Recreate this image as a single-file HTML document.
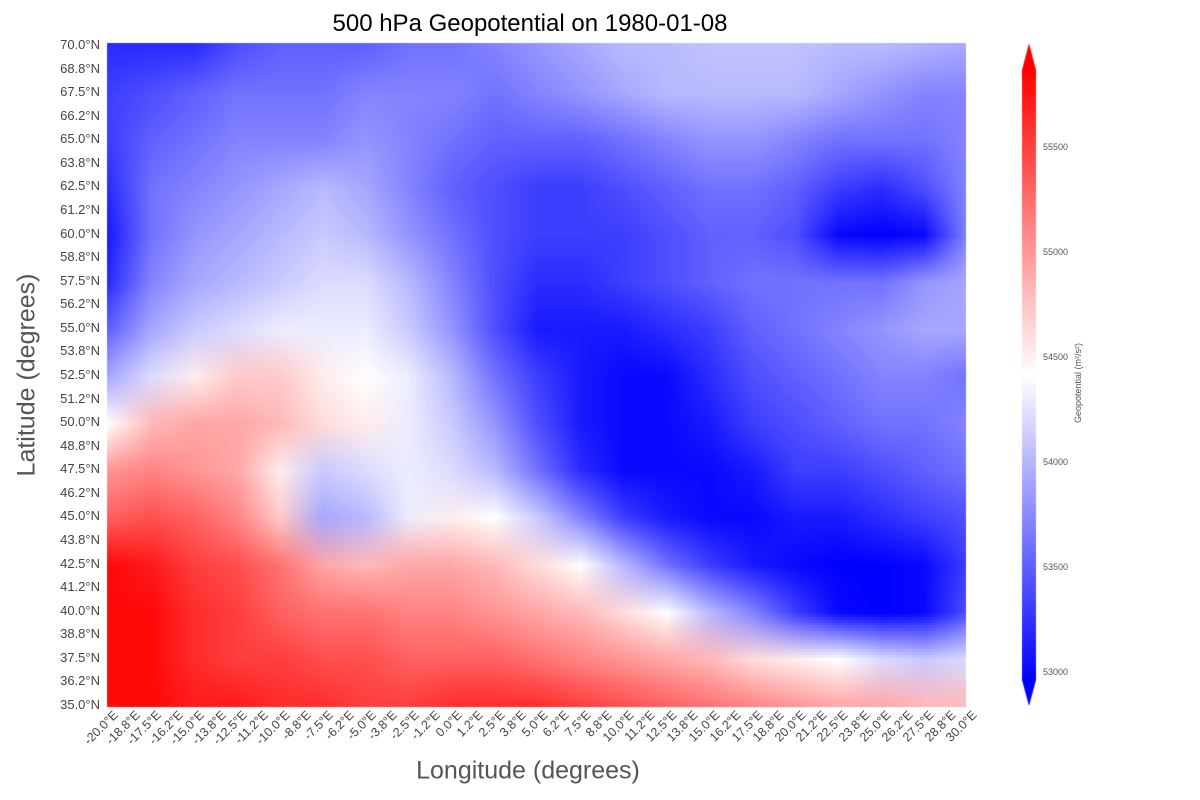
<!DOCTYPE html>
<html><head><meta charset="utf-8"><style>
body{margin:0;background:#fff;font-family:"Liberation Sans",sans-serif}
#wrap{position:relative;width:1200px;height:800px;overflow:hidden}
.t{position:absolute;white-space:nowrap;color:#444}
</style></head><body>
<div id="wrap">
<div class="t" style="left:0;width:1060px;top:10px;text-align:center;font-size:24px;color:#000">500 hPa Geopotential on 1980-01-08</div>
<div class="t" style="left:27px;top:375px;font-size:25px;color:#555;transform:translate(-50%,-50%) rotate(-90deg)">Latitude (degrees)</div>
<div class="t" style="left:528px;top:771px;font-size:25px;color:#555;transform:translate(-50%,-50%)">Longitude (degrees)</div>
<canvas id="hm" width="1200" height="800" style="position:absolute;left:0;top:0"></canvas>
<div class="t" style="left:1078px;top:383px;font-size:9px;color:#555;transform:translate(-50%,-50%) rotate(-90deg)">Geopotential (m²/s²)</div>
</div>
<script>
const lons=[-20,-17.5,-15,-12.5,-10,-7.5,-5,-2.5,0,2.5,5,7.5,10,12.5,15,17.5,20,22.5,25,27.5,30];
const lats=[70,67.5,65,62.5,60,57.5,55,52.5,50,47.5,45,42.5,40,37.5,35];
const values=[
[53200,53200,53200,53400,53500,53500,53500,53600,53600,53700,53800,53900,54000,54000,54050,54050,54050,54000,54000,53950,53900],
[53300,53400,53500,53600,53600,53600,53700,53700,53700,53600,53700,53800,53900,54000,54000,54000,54000,53900,53800,53700,53700],
[53300,53500,53600,53700,53700,53700,53800,53700,53600,53500,53500,53500,53600,53700,53800,53800,53700,53600,53600,53600,53700],
[53200,53600,53700,53800,53900,54000,53900,53700,53500,53400,53300,53300,53400,53500,53600,53600,53500,53300,53200,53400,53700],
[53100,53600,53800,53900,54000,54100,54000,53800,53600,53400,53300,53300,53300,53400,53500,53500,53400,53000,52950,53000,53700],
[53200,53700,53900,54000,54100,54200,54200,54000,53700,53400,53200,53200,53300,53400,53500,53600,53600,53600,53600,53800,53900],
[53500,53900,54100,54200,54300,54300,54300,54100,53800,53400,53100,53100,53100,53200,53300,53500,53600,53700,53800,53900,53900],
[53900,54200,54500,54700,54700,54500,54400,54300,54000,53600,53300,53100,53000,53000,53200,53400,53500,53600,53700,53700,53600],
[54400,54800,54900,54900,54800,54600,54500,54300,54100,53800,53400,53100,53000,53000,53100,53300,53400,53500,53600,53600,53700],
[55000,55100,55000,54900,54500,54100,54200,54300,54200,54000,53600,53200,53000,53000,53000,53100,53300,53300,53400,53500,53600],
[55300,55400,55300,55100,54700,53900,54000,54300,54500,54400,54100,53700,53300,53100,53000,53000,53100,53100,53200,53300,53400],
[55800,55700,55500,55400,55200,54900,54800,54900,54900,54800,54600,54400,54000,53600,53300,53100,53000,52950,52950,53000,53300],
[55800,55800,55600,55500,55300,55200,55200,55100,55100,55000,54900,54800,54600,54400,54000,53700,53300,53000,52950,53000,53400],
[55800,55800,55600,55500,55500,55400,55400,55300,55300,55300,55200,55100,55000,54900,54800,54600,54500,54400,54200,54100,54200],
[55800,55800,55700,55700,55600,55600,55500,55500,55600,55600,55600,55500,55400,55300,55200,55100,55000,54900,54900,54800,54800]];
const lonTicks=[-20,-18.75,-17.5,-16.25,-15,-13.75,-12.5,-11.25,-10,-8.75,-7.5,-6.25,-5,-3.75,-2.5,-1.25,0,1.25,2.5,3.75,5,6.25,7.5,8.75,10,11.25,12.5,13.75,15,16.25,17.5,18.75,20,21.25,22.5,23.75,25,26.25,27.5,28.75,30];
const latTicks=[35,36.25,37.5,38.75,40,41.25,42.5,43.75,45,46.25,47.5,48.75,50,51.25,52.5,53.75,55,56.25,57.5,58.75,60,61.25,62.5,63.75,65,66.25,67.5,68.75,70];
const cbTicks=[53000,53500,54000,54500,55000,55500];
const vmin=52950,vmax=55850;
const X0=107,X1=966,Y0=45,Y1=705;
const xs=l=>X0+(l+20)/50*(X1-X0);
const ys=l=>Y0+(70-l)/35*(Y1-Y0);
function fmt(v){const a=Math.abs(v),n=a*10,f=Math.floor(n);let r;if(Math.abs(n-f-0.5)<1e-9)r=f+(f%2);else r=Math.round(n);return (v<0?'-':'')+(r/10).toFixed(1);}
function cmap(v){let t=(v-vmin)/(vmax-vmin);t=Math.max(0,Math.min(1,t));if(t<0.5){const c=Math.round(t*2*255);return[c,c,255];}const c=Math.round((1-t)*2*255);return[255,c,c];}
const cv=document.getElementById('hm'),ctx=cv.getContext('2d');
const sm=document.createElement('canvas');sm.width=lons.length;sm.height=lats.length;
const sc=sm.getContext('2d');const img=sc.createImageData(lons.length,lats.length);
values.forEach((row,i)=>row.forEach((v,j)=>{const c=cmap(v),k=(i*lons.length+j)*4;img.data[k]=c[0];img.data[k+1]=c[1];img.data[k+2]=c[2];img.data[k+3]=255;}));
sc.putImageData(img,0,0);
const cw=xs(lons[1])-xs(lons[0]),ch=ys(lats[1])-ys(lats[0]);
ctx.save();ctx.beginPath();ctx.rect(X0,43,X1-X0,Y1-43+2);ctx.clip();
ctx.imageSmoothingEnabled=true;
ctx.drawImage(sm,xs(lons[0])-cw/2,ys(lats[0])-ch/2,cw*lons.length,ch*lats.length);
ctx.restore();
const CBX=1022,CBW=14,CBT=70,CBB=680;
const cby=v=>CBB-(v-vmin)/(vmax-vmin)*(CBB-CBT);
const g=ctx.createLinearGradient(0,CBB,0,CBT);
for(let i=0;i<=20;i++){const c=cmap(vmin+(vmax-vmin)*i/20);g.addColorStop(i/20,`rgb(${c})`);}
ctx.fillStyle=g;ctx.fillRect(CBX,CBT,CBW,CBB-CBT);
ctx.fillStyle='rgb(255,0,0)';ctx.beginPath();ctx.moveTo(CBX,CBT);ctx.lineTo(CBX+CBW/2,43);ctx.lineTo(CBX+CBW,CBT);ctx.fill();
ctx.fillStyle='rgb(0,0,255)';ctx.beginPath();ctx.moveTo(CBX,CBB);ctx.lineTo(CBX+CBW/2,706);ctx.lineTo(CBX+CBW,CBB);ctx.fill();
const wrap=document.getElementById('wrap');
function lab(txt,name,css){const d=document.createElement('div');d.className='t';d.textContent=txt;d.style.cssText=css;


wrap.appendChild(d);}
cbTicks.forEach(v=>lab(String(v),'colorbar-tick-label',`left:1043px;top:${cby(v)-2}px;font-size:9px;color:#555`));
latTicks.forEach(l=>lab(fmt(l)+'°N','y-tick-label',`right:${1200-100}px;top:${ys(l)-8}px;font-size:13px`));
lonTicks.forEach(l=>lab(fmt(l)+'°E','x-tick-label',`right:${1200-xs(l)-4}px;top:708px;font-size:12.5px;transform-origin:100% 0;transform:rotate(-45deg)`));
</script>
</body></html>
